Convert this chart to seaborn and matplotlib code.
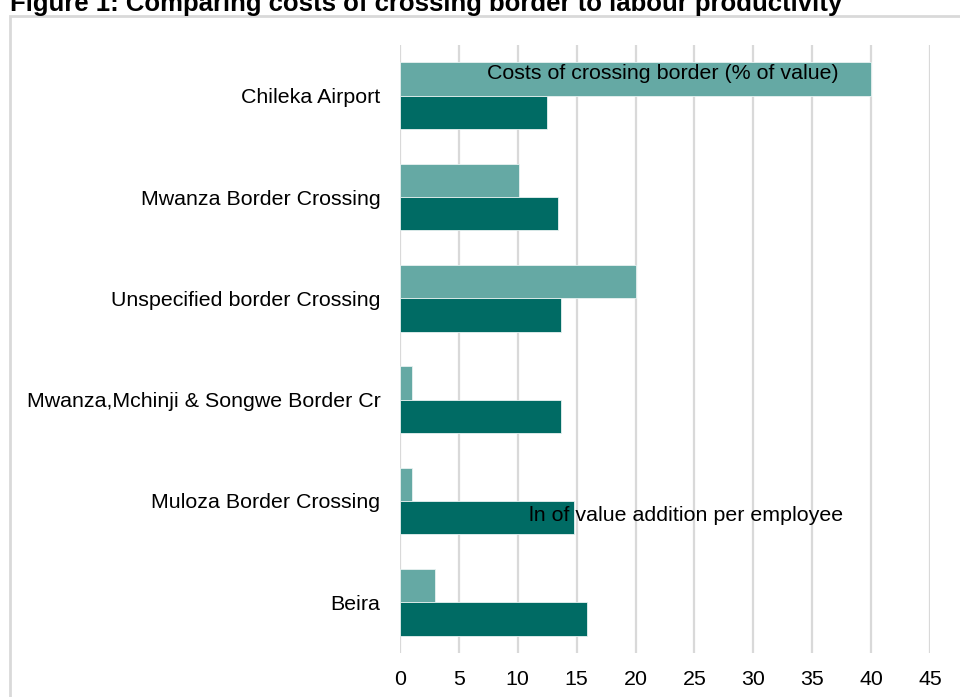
import pandas as pd
import matplotlib.pyplot as plt
import seaborn as sns
from matplotlib.patches import Rectangle

# data
crossings = [
    "Chileka Airport",
    "Mwanza Border Crossing",
    "Unspecified border Crossing",
    "Mwanza,Mchinji & Songwe Border Cr",
    "Muloza Border Crossing",
    "Beira",
]
cost_pct = [40.0, 10.1, 20.0, 1.0, 1.0, 3.0]
ln_value_added = [12.5, 13.4, 13.7, 13.7, 14.8, 15.9]
series_names = ["Costs of crossing border (% of value)", "ln of value addition per employee"]
xticks = [0, 5, 10, 15, 20, 25, 30, 35, 40, 45]

df = pd.DataFrame({
    "crossing": crossings * 2,
    "value": cost_pct + ln_value_added,
    "series": [series_names[0]] * len(crossings) + [series_names[1]] * len(crossings),
})

sns.set_style("white")
plt.rcParams["font.family"] = ["Liberation Sans", "DejaVu Sans"]

W, H = 960, 697
fig = plt.figure(figsize=(9.6, 6.97), dpi=100)
ax = fig.add_axes([400 / W, 1 - 653 / H, 530 / W, (653 - 45) / H])

# light gray frame around the chart
fig.patches.append(Rectangle((10 / W, -0.1), 1.2, 1 - 16 / H + 0.1, transform=fig.transFigure,
                             fill=False, edgecolor="#d9d9d9", linewidth=2, zorder=0))

sns.barplot(data=df, y="crossing", x="value", hue="series", hue_order=series_names,
            order=crossings, palette=["#65a9a4", "#006b64"], saturation=1, width=0.66,
            edgecolor="#e8f2f1", linewidth=0.6, ax=ax, legend=False, zorder=3)

ax.set_xlim(0, 45)
ax.set_ylim(5.5, -0.5)
ax.set_xticks(xticks)
ax.set_xticklabels([str(t) for t in xticks])
ax.grid(axis="x", color="#d9d9d9", linewidth=1.6, zorder=0)
ax.grid(axis="y", visible=False)
ax.set_axisbelow(True)
for s in ax.spines.values():
    s.set_visible(False)
ax.tick_params(axis="both", length=0, labelsize=15.4, labelcolor="black")
ax.tick_params(axis="y", pad=14)
ax.tick_params(axis="x", pad=12)
ax.set_xlabel("")
ax.set_ylabel("")

# series labels placed inside the plot as in the original
ax.text(22.3, -0.22, series_names[0], ha="center", va="center", fontsize=15.4, color="black", zorder=5)
ax.text(24.3, 4.14, series_names[1], ha="center", va="center", fontsize=15.4, color="black", zorder=5)

fig.text(10 / W, 1 - 11 / H, "Figure 1: Comparing costs of crossing border to labour productivity",
         ha="left", va="baseline", fontsize=18.5, fontweight="bold", color="black")

fig.savefig("out.png", dpi=100, facecolor="white")
